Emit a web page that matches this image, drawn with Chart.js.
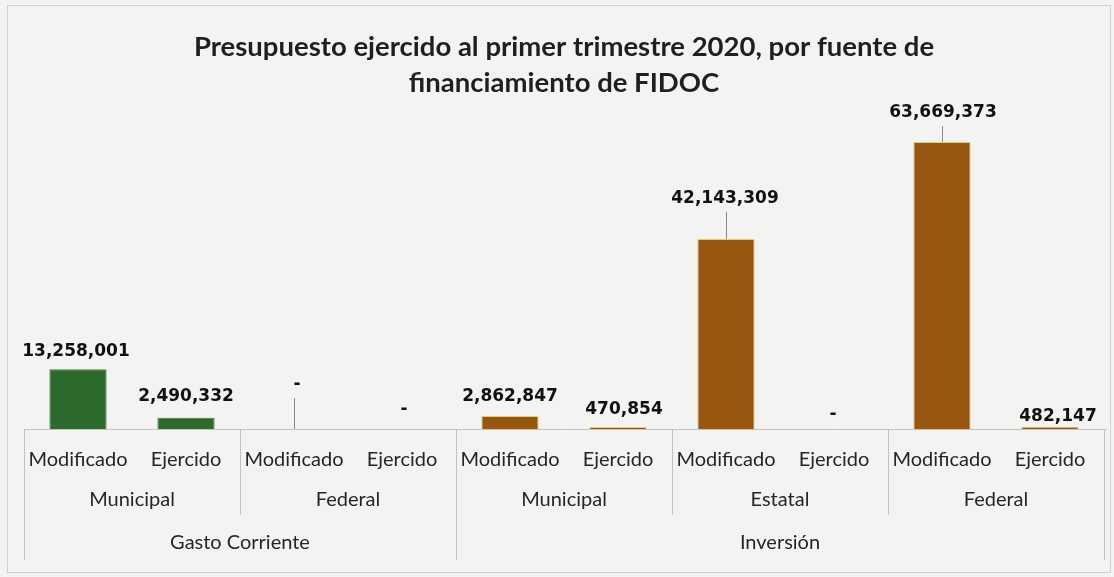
<!DOCTYPE html>
<html><head><meta charset="utf-8">
<script src="https://cdn.jsdelivr.net/npm/chart.js@4.4.1/dist/chart.umd.min.js"></script>
<style>
html,body{margin:0;padding:0;background:#f3f3f2;}
#wrap{width:1114px;height:577px;position:relative;}
canvas{display:block;}
</style>
</head><body>
<div id="wrap"><canvas id="c" width="1114" height="577"></canvas></div>
<script>
// ---- data ----
const titleLines = ['Presupuesto ejercido al primer trimestre 2020, por fuente de', 'financiamiento de FIDOC'];
const categories = ['Modificado','Ejercido','Modificado','Ejercido','Modificado','Ejercido','Modificado','Ejercido','Modificado','Ejercido'];
const fuentes = ['Municipal','Federal','Municipal','Estatal','Federal'];
const tipos = ['Gasto Corriente','Inversión'];
const fuentesPorTipo = [2, 3];
const values = [13258001, 2490332, 0, 0, 2862847, 470854, 42143309, 0, 63669373, 482147];

// ---- styling / layout (not data) ----
const tipoColors = ['#2c6a2b', '#975710'];
const tipoBorders = ['#3f7d3a', '#e3cc6a'];
const labelRise = [18, 21, 44, 19, 20, 17, 40, 14, 29, 10];
const labelDX = [-2, 0, 3, 2, 0, 6, -1, -1, 1, 8];

const barTipo = [];
fuentesPorTipo.forEach((n, t) => { for (let k = 0; k < n * 2; k++) barTipo.push(t); });

const fmt = v => v === 0 ? '-' : v.toLocaleString('en-US');

const overlay = {
  id: 'overlay',
  afterDatasetsDraw(chart) {
    const ctx = chart.ctx, xs = chart.scales.x, ys = chart.scales.y;
    const step = xs.getPixelForValue(1) - xs.getPixelForValue(0);
    const edge = i => xs.getPixelForValue(0) - step / 2 + i * step;
    const y0 = ys.getPixelForValue(0);
    ctx.save();
    // title
    ctx.fillStyle = '#1f1f1f';
    ctx.textAlign = 'center'; ctx.textBaseline = 'middle';
    ctx.font = 'bold 27.5px Lato';
    const cx = (edge(0) + edge(categories.length)) / 2;
    ctx.fillText(titleLines[0], cx, 47);
    ctx.fillText(titleLines[1], cx, 83);

    // axis lines
    ctx.strokeStyle = '#c2c2c2'; ctx.lineWidth = 1;
    const ln = (a, b, c, d) => { ctx.beginPath(); ctx.moveTo(a, b); ctx.lineTo(c, d); ctx.stroke(); };
    ln(edge(0), y0 + 0.5, edge(categories.length) + 3, y0 + 0.5);
    // fuente & tipo separators
    const tipoEdges = [0];
    fuentesPorTipo.forEach(n => tipoEdges.push(tipoEdges[tipoEdges.length - 1] + n));
    for (let f = 0; f <= fuentes.length; f++) {
      const x = Math.round(edge(f * 2)) + 0.5;
      const full = tipoEdges.includes(f);
      ln(x, y0, x, full ? 560 : 515);
    }
    // labels
    ctx.fillStyle = '#262626';
    ctx.font = '20px Lato';
    categories.forEach((c, i) => ctx.fillText(c, xs.getPixelForValue(i), 460));
    fuentes.forEach((f, i) => ctx.fillText(f, (edge(i * 2) + edge(i * 2 + 2)) / 2, 500));
    tipos.forEach((t, i) => ctx.fillText(t, (edge(tipoEdges[i] * 2) + edge(tipoEdges[i + 1] * 2)) / 2, 543));

    // data labels
    const meta = chart.getDatasetMeta(0);
    ctx.font = 'bold 17px "DejaVu Sans"';
    ctx.fillStyle = '#111';
    meta.data.forEach((el, i) => {
      const top = el.y;
      const ly = top - labelRise[i];
      const lx = el.x + labelDX[i];
      ctx.fillText(fmt(values[i]), lx, ly);
      if (labelRise[i] > 25) {
        ctx.strokeStyle = '#8a8a8a';
        ln(Math.round(el.x) + 0.5, top, Math.round(el.x) + 0.5, ly + 13);
      }
    });
    // frame
    ctx.strokeStyle = '#d2d2d2';
    ctx.strokeRect(7.5, 5.5, 1103, 567);
    ctx.restore();
  }
};

new Chart(document.getElementById('c'), {
  type: 'bar',
  data: {
    labels: categories,
    datasets: [{
      data: values,
      backgroundColor: values.map((v, i) => tipoColors[barTipo[i]]),
      borderColor: values.map((v, i) => tipoBorders[barTipo[i]]),
      borderWidth: 1,
      barPercentage: 0.53,
      categoryPercentage: 1
    }]
  },
  options: {
    responsive: false,
    animation: false,
    layout: { padding: { left: 24, right: 10, top: 110, bottom: 148 } },
    plugins: { legend: { display: false }, tooltip: { enabled: false } },
    scales: {
      x: { display: false },
      y: { display: false, min: 0, max: 70770000 }
    }
  },
  plugins: [overlay]
});
</script>
</body></html>
